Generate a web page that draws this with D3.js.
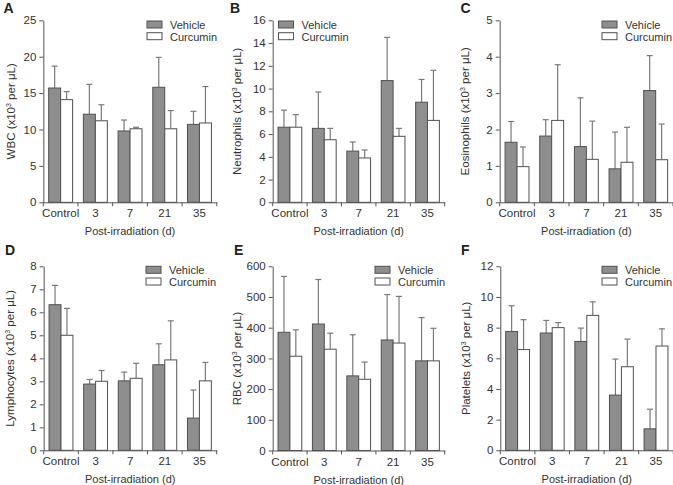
<!DOCTYPE html>
<html><head><meta charset="utf-8">
<script src="https://cdn.jsdelivr.net/npm/d3@7/dist/d3.min.js"></script>
<style>
html,body{margin:0;padding:0;background:#fff;}
svg{display:block;font-family:"Liberation Sans",Arial,sans-serif;}
</style></head>
<body><svg id="chart" width="673" height="485"></svg>
<script>
const categories = ["Control", "3", "7", "21", "35"];
const seriesNames = ["Vehicle", "Curcumin"];
const xTitle = "Post-irradiation (d)";

// WBC
const wbcVehicle = [15.7, 12.1, 9.8, 15.8, 10.7];
const wbcVehicleSD = [3.0, 4.1, 1.5, 4.1, 1.8];
const wbcCurcumin = [14.1, 11.2, 10.1, 10.1, 10.9];
const wbcCurcuminSD = [1.1, 2.2, 0.2, 2.5, 5.0];
const wbcTicks = [0, 5, 10, 15, 20, 25];
// Neutrophils
const neuVehicle = [6.6, 6.5, 4.5, 10.7, 8.8];
const neuVehicleSD = [1.5, 3.2, 0.8, 3.8, 2.0];
const neuCurcumin = [6.6, 5.5, 3.9, 5.8, 7.2];
const neuCurcuminSD = [1.1, 1.0, 0.7, 0.7, 4.4];
const neuTicks = [0, 2, 4, 6, 8, 10, 12, 14, 16];
// Eosinophils
const eosVehicle = [1.65, 1.82, 1.53, 0.92, 3.07];
const eosVehicleSD = [0.57, 0.45, 1.34, 1.01, 0.96];
const eosCurcumin = [0.98, 2.25, 1.18, 1.1, 1.17];
const eosCurcuminSD = [0.54, 1.53, 1.05, 0.96, 0.98];
const eosTicks = [0, 1, 2, 3, 4, 5];
// Lymphocytes
const lymVehicle = [6.33, 2.88, 3.02, 3.72, 1.4];
const lymVehicleSD = [0.84, 0.2, 0.38, 0.91, 1.22];
const lymCurcumin = [5.0, 3.0, 3.13, 3.93, 3.02];
const lymCurcuminSD = [1.17, 0.47, 0.65, 1.7, 0.8];
const lymTicks = [0, 1, 2, 3, 4, 5, 6, 7, 8];
// RBC
const rbcVehicle = [385, 412, 243, 360, 292];
const rbcVehicleSD = [182, 145, 134, 148, 141];
const rbcCurcumin = [307, 330, 232, 350, 292];
const rbcCurcuminSD = [86, 52, 56, 152, 106];
const rbcTicks = [0, 100, 200, 300, 400, 500, 600];
// Platelets
const pltVehicle = [7.75, 7.65, 7.1, 3.6, 1.4];
const pltVehicleSD = [1.68, 0.82, 0.87, 2.35, 1.28];
const pltCurcumin = [6.57, 8.0, 8.8, 5.45, 6.8];
const pltCurcuminSD = [1.95, 0.33, 0.88, 1.8, 1.12];
const pltTicks = [0, 2, 4, 6, 8, 10, 12];

const panels = [
  {letter:"A", name:"WBC", v:wbcVehicle, vsd:wbcVehicleSD, c:wbcCurcumin, csd:wbcCurcuminSD, ticks:wbcTicks,
   ox:0, oy:0, xL:43.3, w:173.5, yT:20.3, yB:202.3, lx:147, ly:21, labx:11, letx:3.5},
  {letter:"B", name:"Neutrophils", v:neuVehicle, vsd:neuVehicleSD, c:neuCurcumin, csd:neuCurcuminSD, ticks:neuTicks,
   ox:224, oy:0, xL:272.7, w:172, yT:20.3, yB:202.3, lx:278.5, ly:21, labx:237, letx:230},
  {letter:"C", name:"Eosinophils", v:eosVehicle, vsd:eosVehicleSD, c:eosCurcumin, csd:eosCurcuminSD, ticks:eosTicks,
   ox:448, oy:0, xL:499.7, w:173.3, yT:20.3, yB:202.3, lx:602, ly:21, labx:465, letx:460.5},
  {letter:"D", name:"Lymphocytes", v:lymVehicle, vsd:lymVehicleSD, c:lymCurcumin, csd:lymCurcuminSD, ticks:lymTicks,
   ox:0, oy:242, xL:43.7, w:173, yT:266.3, yB:450.3, lx:146, ly:266.3, labx:9.5, letx:5},
  {letter:"E", name:"RBC", v:rbcVehicle, vsd:rbcVehicleSD, c:rbcCurcumin, csd:rbcCurcuminSD, ticks:rbcTicks,
   ox:224, oy:242, xL:272.7, w:172, yT:266.3, yB:450.5, lx:375, ly:266.3, labx:236.5, letx:234},
  {letter:"F", name:"Platelets", v:pltVehicle, vsd:pltVehicleSD, c:pltCurcumin, csd:pltCurcuminSD, ticks:pltTicks,
   ox:448, oy:242, xL:500.3, w:173, yT:266.3, yB:450.3, lx:602, ly:266.3, labx:465.5, letx:461}
];

const svg = d3.select("#chart");
const txt = "#333";
const axisCol = "#555";
const vehFill = "#8e8e8e";
const barStroke = "#505050";
const errCol = "#7a7a7a";
const fontFam = "Liberation Sans, Arial, sans-serif";

panels.forEach(p => {
  const g = svg.append("g");
  const x0 = d3.scaleBand().domain(categories).range([p.xL, p.xL + p.w]).paddingInner(0.31).paddingOuter(0.155);
  const x1 = d3.scaleBand().domain(seriesNames).range([0, x0.bandwidth()]);
  const y = d3.scaleLinear().domain([0, d3.max(p.ticks)]).range([p.yB, p.yT]);

  const rows = categories.map((cat, i) => ({cat, vals: [
    {s:"Vehicle", m:p.v[i], sd:p.vsd[i]},
    {s:"Curcumin", m:p.c[i], sd:p.csd[i]}]}));

  rows.forEach(r => r.vals.forEach(d => {
    const cx = x0(r.cat) + x1(d.s) + x1.bandwidth() / 2;
    g.append("line").attr("x1", cx).attr("x2", cx).attr("y1", y(d.m)).attr("y2", y(d.m + d.sd))
      .attr("stroke", errCol).attr("stroke-width", 1.2);
    g.append("line").attr("x1", cx - 3).attr("x2", cx + 3).attr("y1", y(d.m + d.sd)).attr("y2", y(d.m + d.sd))
      .attr("stroke", errCol).attr("stroke-width", 1.2);
  }));

  rows.forEach(r => r.vals.forEach(d => {
    g.append("rect")
      .attr("x", x0(r.cat) + x1(d.s))
      .attr("y", y(d.m))
      .attr("width", x1.bandwidth())
      .attr("height", y(0) - y(d.m))
      .attr("fill", d.s === "Vehicle" ? vehFill : "#fff")
      .attr("stroke", barStroke).attr("stroke-width", 1);
  }));

  const ya = g.append("g").attr("transform", `translate(${p.xL},0)`)
    .call(d3.axisLeft(y).tickValues(p.ticks).tickFormat(d3.format("d")).tickSize(4).tickPadding(3).tickSizeOuter(0));
  ya.select(".domain").attr("stroke", axisCol);
  ya.selectAll(".tick line").attr("stroke", axisCol);
  ya.selectAll(".tick text").attr("fill", txt).style("font-size", "11.5px").style("font-family", fontFam);

  const xa = g.append("g").attr("transform", `translate(0,${p.yB})`)
    .call(d3.axisBottom(x0).tickSize(0).tickPadding(7).tickSizeOuter(0));
  xa.select(".domain").attr("stroke", axisCol);
  xa.selectAll(".tick text").attr("fill", txt).style("font-size", "11.5px").style("font-family", fontFam);
  const step = x0.step();
  d3.range(categories.length + 1).forEach(i => {
    const xx = p.xL + i * step;
    g.append("line").attr("x1", xx).attr("x2", xx).attr("y1", p.yB).attr("y2", p.yB + 4)
      .attr("stroke", axisCol).attr("stroke-width", 1);
  });

  g.append("text").attr("x", p.xL + p.w / 2).attr("y", p.yB + 33)
    .attr("text-anchor", "middle").attr("fill", txt).style("font-size", "11px").text(xTitle);

  const yt = g.append("text")
    .attr("transform", `translate(${p.labx},${(p.yT + p.yB) / 2}) rotate(-90)`)
    .attr("text-anchor", "middle").attr("dy", "0.35em").attr("fill", txt).style("font-size", "11.5px");
  yt.append("tspan").text(p.name + " (x10");
  yt.append("tspan").attr("dy", -4).style("font-size", "7px").text("3");
  yt.append("tspan").attr("dy", 4).text(" per μL)");

  g.append("text").attr("x", p.letx).attr("y", p.oy + 12.5).attr("fill", "#222")
    .style("font-size", "14px").style("font-weight", "bold").text(p.letter);

  seriesNames.forEach((s, i) => {
    const ly = p.ly + i * 11.7;
    g.append("rect").attr("x", p.lx).attr("y", ly).attr("width", 15).attr("height", 7)
      .attr("fill", s === "Vehicle" ? vehFill : "#fff").attr("stroke", barStroke).attr("stroke-width", 1);
    g.append("text").attr("x", p.lx + 23).attr("y", ly + 7.8).attr("fill", txt)
      .style("font-size", "11px").text(s);
  });
});
</script></body></html>
